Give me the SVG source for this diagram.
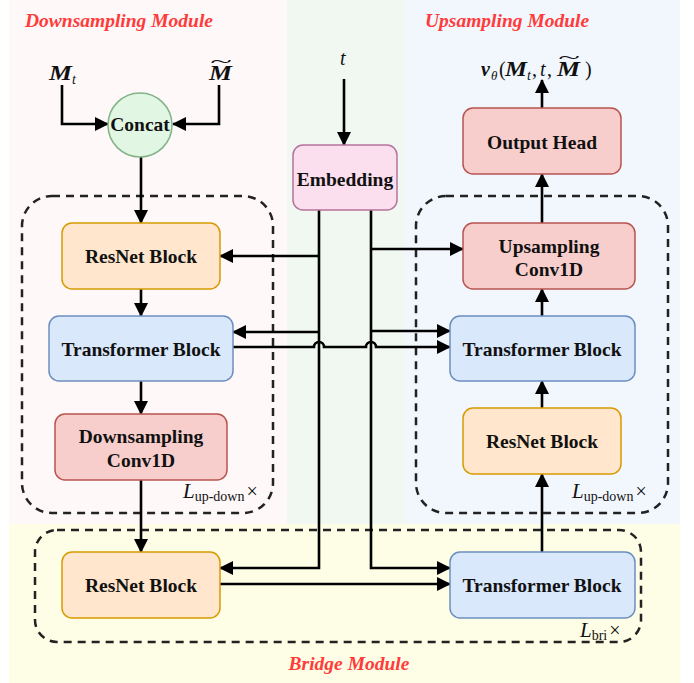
<svg xmlns="http://www.w3.org/2000/svg" width="694" height="683" viewBox="0 0 694 683">
<style>
.node text{font-family:"Liberation Serif","Times New Roman",serif;font-weight:bold;font-size:19.5px;fill:#111;text-anchor:middle}
.title{font-family:"Liberation Serif","Times New Roman",serif;font-weight:bold;font-style:italic;font-size:19.5px;fill:#FF3B3B}
.math{font-family:"Liberation Serif","Times New Roman",serif;font-size:20px;fill:#111}
.bi{font-weight:bold;font-style:italic}
.it{font-style:italic}
.res{fill:#FFE6CC;stroke:#D79B00;stroke-width:1.5}
.tra{fill:#DAE8FC;stroke:#6C8EBF;stroke-width:1.5}
.conv{fill:#F8CECC;stroke:#B85450;stroke-width:1.5}
.emb{fill:#FCDFEE;stroke:#B5739D;stroke-width:1.5}
.cat{fill:#E1F6E3;stroke:#82B386;stroke-width:1.5}
.dash{fill:none;stroke:#222;stroke-width:2.5;stroke-dasharray:8,6}
#connectors path{fill:none;stroke:#000;stroke-width:2.6}
.arr{marker-end:url(#ah)}
</style>
<defs>
<marker id="ah" markerUnits="userSpaceOnUse" viewBox="0 0 14 14" refX="13" refY="7" markerWidth="14" markerHeight="14" orient="auto">
<path d="M0,0 L14,7 L0,14 z" fill="#000"/>
</marker>
</defs>
<!-- backgrounds -->
<rect x="9" y="0" width="278" height="524" fill="#FEF8F8"/>
<rect x="287" y="0" width="118" height="524" fill="#F1F8F1"/>
<rect x="405" y="0" width="275" height="524" fill="#F2F7FE"/>
<rect x="9" y="524" width="671" height="159" fill="#FEFEE6"/>
<text class="title" x="25" y="27">Downsampling Module</text>
<text class="title" x="425" y="27">Upsampling Module</text>
<text class="title" x="349" y="670" text-anchor="middle">Bridge Module</text>
<!-- dashed groups -->
<rect class="dash" x="22" y="196" width="251" height="317" rx="30"/>
<rect class="dash" x="416" y="196" width="252" height="317" rx="30"/>
<rect class="dash" x="35" y="530" width="606" height="112" rx="22"/>
<g class="math">
<text x="183" y="498"><tspan class="it" font-size="21">L</tspan><tspan font-size="14" dy="3">up-down</tspan><tspan dy="-3" dx="2">×</tspan></text>
<text x="572" y="498"><tspan class="it" font-size="21">L</tspan><tspan font-size="14" dy="3">up-down</tspan><tspan dy="-3" dx="2">×</tspan></text>
<text x="580" y="637"><tspan class="it" font-size="21">L</tspan><tspan font-size="14" dy="3">bri</tspan><tspan dy="-3" dx="2">×</tspan></text>
<!-- M_t -->
<text x="49" y="80" class="bi" textLength="23" lengthAdjust="spacingAndGlyphs">M</text>
<text x="72" y="84" class="it" font-size="14">t</text>
<!-- M tilde -->
<text x="209" y="80" class="bi" textLength="23" lengthAdjust="spacingAndGlyphs">M</text>
<text x="221" y="67" text-anchor="middle" transform="translate(221 66) scale(2 0.8) translate(-221 -66)">~</text>
<!-- t -->
<text x="340" y="65" class="it">t</text>
<!-- v_theta(M_t, t, M tilde) -->
<text x="481" y="76" class="bi">v</text>
<text x="491" y="80" class="it" font-size="13">θ</text>
<text x="499" y="76">(</text>
<text x="505" y="76" class="bi" textLength="22" lengthAdjust="spacingAndGlyphs">M</text>
<text x="527" y="80" class="it" font-size="14">t</text>
<text x="532" y="76">,</text>
<text x="540" y="76" class="it">t</text>
<text x="547" y="76">,</text>
<text x="557" y="76" class="bi" textLength="23" lengthAdjust="spacingAndGlyphs">M</text>
<text x="585" y="76">)</text>
<text x="569" y="63" text-anchor="middle" transform="translate(569 62) scale(2 0.8) translate(-569 -62)">~</text>
</g>
<!-- connectors -->
<g id="connectors">
<path class="arr" d="M62,85 V124 H108"/>
<path class="arr" d="M219,85 V124 H173"/>
<path class="arr" d="M141,157 V223"/>
<path class="arr" d="M344,79 V145"/>
<path class="arr" d="M141,289 V316"/>
<path class="arr" d="M141,381 V414"/>
<path class="arr" d="M141,480 V552"/>
<path class="arr" d="M319,209 V568 H220"/>
<path class="arr" d="M319,256 H220"/>
<path class="arr" d="M319,332 H233"/>
<path class="arr" d="M371,209 V568 H450"/>
<path class="arr" d="M371,249 H463"/>
<path class="arr" d="M371,331 H450"/>
<path class="arr" d="M233,347 H314 a5,5 0 0 1 10,0 H366 a5,5 0 0 1 10,0 H450"/>
<path class="arr" d="M220,584 H450"/>
<path class="arr" d="M542,552 V474"/>
<path class="arr" d="M542,408 V381"/>
<path class="arr" d="M542,316 V289"/>
<path class="arr" d="M542,223 V174"/>
<path class="arr" d="M542,108 V80"/>
</g>
<!-- nodes -->
<g id="concat" class="node"><circle class="cat" cx="140" cy="125" r="32"/><text x="140" y="131">Concat</text></g>
<g id="embedding" class="node"><rect class="emb" x="293" y="145" width="104" height="65" rx="10"/><text x="345" y="186">Embedding</text></g>
<g id="down-resnet" class="node"><rect class="res" x="62" y="223" width="158" height="66" rx="10"/><text x="141" y="263">ResNet Block</text></g>
<g id="down-transformer" class="node"><rect class="tra" x="49" y="316" width="184" height="65" rx="10"/><text x="141" y="356">Transformer Block</text></g>
<g id="down-conv" class="node"><rect class="conv" x="55" y="414" width="172" height="66" rx="10"/><text x="141" y="443">Downsampling</text><text x="141" y="467">Conv1D</text></g>
<g id="output-head" class="node"><rect class="conv" x="463" y="108" width="158" height="66" rx="10"/><text x="542" y="149">Output Head</text></g>
<g id="up-conv" class="node"><rect class="conv" x="463" y="223" width="172" height="66" rx="10"/><text x="549" y="253">Upsampling</text><text x="549" y="276">Conv1D</text></g>
<g id="up-transformer" class="node"><rect class="tra" x="450" y="316" width="185" height="65" rx="10"/><text x="542" y="356">Transformer Block</text></g>
<g id="up-resnet" class="node"><rect class="res" x="463" y="408" width="158" height="66" rx="10"/><text x="542" y="448">ResNet Block</text></g>
<g id="bri-resnet" class="node"><rect class="res" x="62" y="552" width="158" height="66" rx="10"/><text x="141" y="592">ResNet Block</text></g>
<g id="bri-transformer" class="node"><rect class="tra" x="450" y="552" width="185" height="66" rx="10"/><text x="542" y="592">Transformer Block</text></g>
</svg>
